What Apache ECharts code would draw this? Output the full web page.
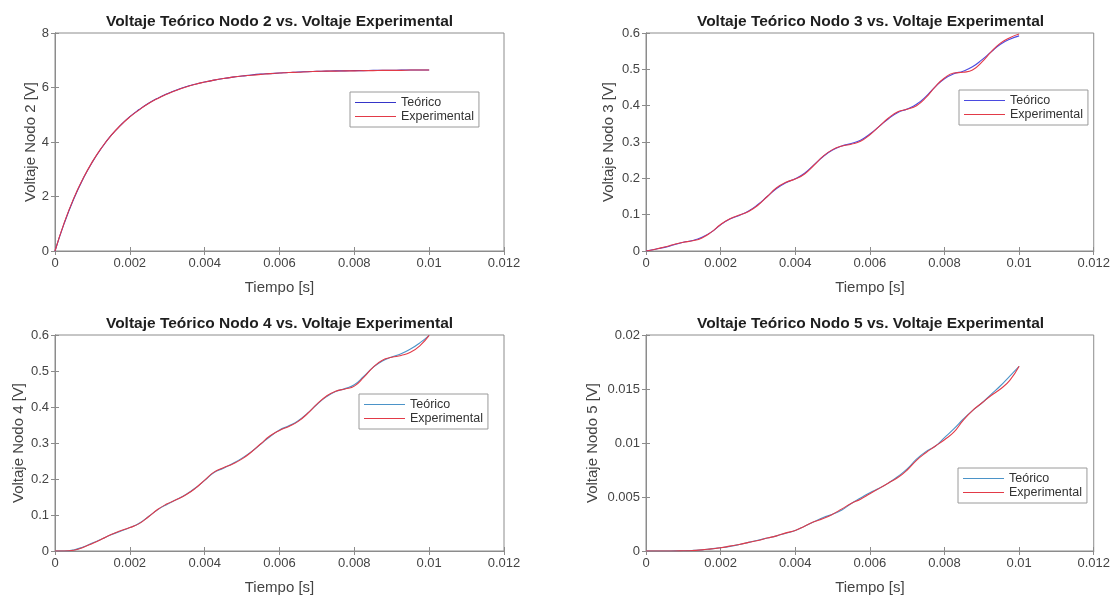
<!DOCTYPE html>
<html>
<head>
<meta charset="utf-8">
<title>Voltajes nodos</title>
<script src="https://cdn.jsdelivr.net/npm/echarts@6/dist/echarts.min.js"></script>
<style>
  html, body { margin: 0; padding: 0; background: #fff; }
  #chart { width: 1113px; height: 596px; }
</style>
</head>
<body>
<div id="chart"></div>
<script>
// tiempo [s], cada 0.25 ms
var tiempo = [0, 0.00025, 0.0005, 0.00075, 0.001, 0.00125, 0.0015, 0.00175, 0.002, 0.00225,
  0.0025, 0.00275, 0.003, 0.00325, 0.0035, 0.00375, 0.004, 0.00425, 0.0045, 0.00475,
  0.005, 0.00525, 0.0055, 0.00575, 0.006, 0.00625, 0.0065, 0.00675, 0.007, 0.00725,
  0.0075, 0.00775, 0.008, 0.00825, 0.0085, 0.00875, 0.009, 0.00925, 0.0095, 0.00975, 0.01];

var teoricoN2 = [0, 1.03, 1.91, 2.65, 3.27, 3.79, 4.24, 4.61, 4.93, 5.19,
  5.42, 5.61, 5.77, 5.91, 6.03, 6.12, 6.20, 6.27, 6.33, 6.38,
  6.42, 6.46, 6.49, 6.51, 6.53, 6.55, 6.57, 6.58, 6.59, 6.60,
  6.61, 6.61, 6.62, 6.62, 6.63, 6.63, 6.63, 6.64, 6.64, 6.64, 6.64];
var experimentalN2 = [0, 1.05, 1.93, 2.66, 3.28, 3.80, 4.24, 4.61, 4.92, 5.18,
  5.41, 5.60, 5.76, 5.90, 6.02, 6.12, 6.20, 6.27, 6.33, 6.38,
  6.42, 6.45, 6.48, 6.51, 6.53, 6.55, 6.56, 6.58, 6.59, 6.60,
  6.60, 6.61, 6.61, 6.62, 6.62, 6.63, 6.63, 6.63, 6.64, 6.64, 6.64];

var teoricoN3 = [0, 0.005, 0.010, 0.017, 0.024, 0.029, 0.038, 0.052, 0.072, 0.088,
  0.098, 0.110, 0.128, 0.150, 0.172, 0.188, 0.199, 0.214, 0.237, 0.260,
  0.278, 0.289, 0.296, 0.305, 0.322, 0.343, 0.364, 0.381, 0.391, 0.404,
  0.425, 0.452, 0.474, 0.488, 0.495, 0.507, 0.526, 0.548, 0.569, 0.583, 0.592];
var experimentalN3 = [0, 0.005, 0.011, 0.018, 0.024, 0.028, 0.036, 0.052, 0.073, 0.089,
  0.099, 0.109, 0.126, 0.150, 0.174, 0.189, 0.198, 0.212, 0.236, 0.261,
  0.279, 0.289, 0.294, 0.302, 0.320, 0.343, 0.366, 0.383, 0.390, 0.400,
  0.422, 0.452, 0.476, 0.490, 0.492, 0.498, 0.520, 0.548, 0.572, 0.587, 0.597];

var teoricoN4 = [0, 0, 0.003, 0.011, 0.022, 0.033, 0.045, 0.055, 0.065, 0.077,
  0.096, 0.115, 0.130, 0.143, 0.157, 0.175, 0.196, 0.218, 0.230, 0.243,
  0.258, 0.276, 0.297, 0.318, 0.336, 0.348, 0.362, 0.383, 0.407, 0.428,
  0.443, 0.451, 0.462, 0.485, 0.510, 0.528, 0.539, 0.548, 0.561, 0.578, 0.599];
var experimentalN4 = [0, 0, 0.002, 0.010, 0.021, 0.033, 0.046, 0.056, 0.065, 0.076,
  0.095, 0.116, 0.131, 0.143, 0.156, 0.174, 0.197, 0.219, 0.231, 0.242,
  0.256, 0.275, 0.298, 0.320, 0.335, 0.346, 0.360, 0.382, 0.408, 0.430,
  0.444, 0.450, 0.458, 0.482, 0.510, 0.530, 0.538, 0.543, 0.552, 0.570, 0.599];

var teoricoN5 = [0, 0, 0, 0.00001, 0.00003, 0.00006, 0.0001, 0.0002, 0.0003, 0.00043,
  0.0006, 0.0008, 0.001, 0.0012, 0.0014, 0.00165, 0.0019, 0.0023, 0.0027, 0.0031,
  0.0034, 0.0038, 0.0044, 0.0049, 0.0054, 0.0058, 0.0063, 0.0069, 0.0076, 0.0085,
  0.0092, 0.0097, 0.0105, 0.0113, 0.0122, 0.013, 0.0137, 0.0145, 0.0153, 0.0162, 0.0171];
var experimentalN5 = [0, 0, 0, 0, 0.00002, 0.00005, 0.0001, 0.0002, 0.0003, 0.00045,
  0.0006, 0.0008, 0.00098, 0.0012, 0.0014, 0.00168, 0.0019, 0.0023, 0.0027, 0.003,
  0.0034, 0.0039, 0.0044, 0.0048, 0.0053, 0.0058, 0.0063, 0.0068, 0.0075, 0.0084,
  0.0091, 0.0097, 0.0103, 0.011, 0.0121, 0.013, 0.0137, 0.0144, 0.015, 0.0158, 0.0171];

var nodos = ['2', '3', '4', '5'];
var yMax = [8, 0.6, 0.6, 0.02];
var yStep = [2, 0.1, 0.1, 0.005];
var colorTeorico = ['#3535c8', '#4a4ae0', '#4b93c8', '#4b93c8'];
var colorExp = '#e23a48';

var fuente = '"Liberation Sans", Arial, sans-serif';
var ejeColor = '#8c8c8c';
var textoColor = '#444444';

// cajas de los ejes [left, top, width, height]
var cajas = [[55, 33, 449, 218], [646, 33, 449, 218], [55, 335, 449, 217], [646, 335, 449, 217]];
var legendPos = [[350, 92], [959, 90], [359, 394], [958, 468]];
var yNameGap = [17, 30, 29, 46];

var pares = [[teoricoN2, experimentalN2], [teoricoN3, experimentalN3],
  [teoricoN4, experimentalN4], [teoricoN5, experimentalN5]];

function puntos(vals) {
  return tiempo.map(function (t, i) { return [t, vals[i]]; });
}

var option = {
  backgroundColor: '#ffffff',
  animation: false,
  textStyle: { fontFamily: fuente },
  title: [], grid: [], xAxis: [], yAxis: [], legend: [], series: []
};

cajas.forEach(function (c, i) {
  option.grid.push({
    left: c[0], top: c[1], width: c[2], height: c[3],
    show: true, borderColor: ejeColor, borderWidth: 1, backgroundColor: '#fff'
  });
  option.title.push({
    text: 'Voltaje Teórico Nodo ' + nodos[i] + ' vs. Voltaje Experimental',
    left: c[0] + c[2] / 2, top: c[1] - 19, textAlign: 'center', padding: 0,
    textStyle: { fontSize: 15.5, fontWeight: 'bold', color: '#1e1e1e', fontFamily: fuente }
  });
  var ejeX = {
    type: 'value', gridIndex: i, min: 0, max: 0.012, interval: 0.002,
    axisLine: { show: true, lineStyle: { color: ejeColor } },
    axisTick: { show: true, inside: true, length: 4, lineStyle: { color: ejeColor } },
    splitLine: { show: false }
  };
  option.xAxis.push(Object.assign({}, ejeX, {
    position: 'bottom',
    name: 'Tiempo [s]', nameLocation: 'middle', nameGap: 29,
    nameTextStyle: { fontSize: 15, color: textoColor, fontFamily: fuente },
    axisLabel: { fontSize: 13, color: textoColor, margin: 6, fontFamily: fuente }
  }));
  option.xAxis.push(Object.assign({}, ejeX, { position: 'top', axisLabel: { show: false } }));
  var ejeY = {
    type: 'value', gridIndex: i, min: 0, max: yMax[i], interval: yStep[i],
    axisLine: { show: true, lineStyle: { color: ejeColor } },
    axisTick: { show: true, inside: true, length: 4, lineStyle: { color: ejeColor } },
    splitLine: { show: false }
  };
  option.yAxis.push(Object.assign({}, ejeY, {
    position: 'left',
    name: 'Voltaje Nodo ' + nodos[i] + ' [V]', nameLocation: 'middle', nameGap: yNameGap[i],
    nameTextStyle: { fontSize: 15, color: textoColor, fontFamily: fuente },
    axisLabel: { fontSize: 13, color: textoColor, margin: 6, fontFamily: fuente }
  }));
  option.yAxis.push(Object.assign({}, ejeY, { position: 'right', axisLabel: { show: false } }));

  option.legend.push({
    orient: 'vertical', left: legendPos[i][0], top: legendPos[i][1],
    padding: [4, 5, 4, 5], itemGap: 1, itemWidth: 41, itemHeight: 1, itemTextGap: 2,
    icon: 'rect',
    borderColor: '#9a9a9a', borderWidth: 1, backgroundColor: '#fff',
    textStyle: { fontSize: 12.5, color: '#333', fontFamily: fuente },
    data: [
      { name: 'Teórico', itemStyle: { color: colorTeorico[i] } },
      { name: 'Experimental', itemStyle: { color: colorExp } }
    ],
    selectedMode: false
  });

  option.series.push({
    name: 'Teórico', type: 'line', xAxisIndex: i * 2, yAxisIndex: i * 2,
    data: puntos(pares[i][0]), symbol: 'none', smooth: true,
    lineStyle: { color: colorTeorico[i], width: 1.1 }, itemStyle: { color: colorTeorico[i] }
  });
  option.series.push({
    name: 'Experimental', type: 'line', xAxisIndex: i * 2, yAxisIndex: i * 2,
    data: puntos(pares[i][1]), symbol: 'none', smooth: true,
    lineStyle: { color: colorExp, width: 1.1 }, itemStyle: { color: colorExp }
  });
});

var myChart = echarts.init(document.getElementById('chart'), null, { renderer: 'canvas' });
myChart.setOption(option);
window.addEventListener('resize', myChart.resize);
</script>
</body>
</html>
